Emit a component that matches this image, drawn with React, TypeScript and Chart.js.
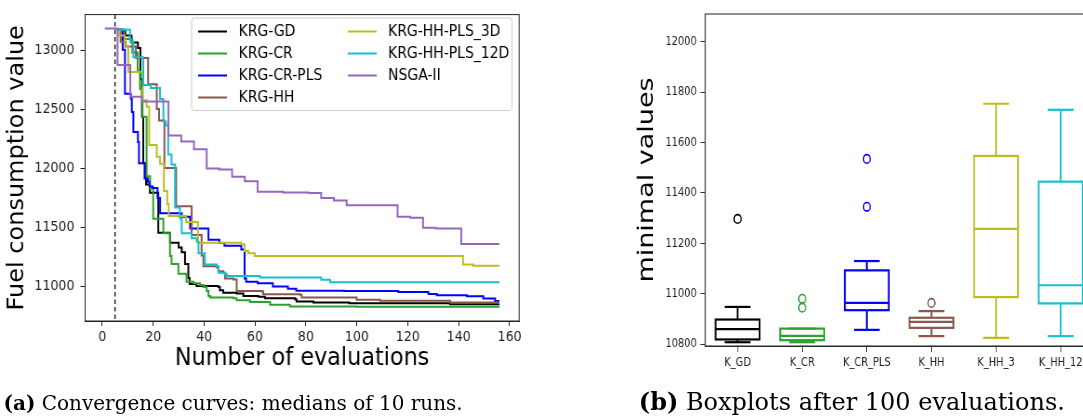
import React, { useEffect, useRef } from 'react';
import { Chart, registerables } from 'chart.js';

Chart.register(...registerables);

// ---------------- Data: convergence curves (step points: evaluation, median fuel value) ----------------
const SERIES_LABELS = ['KRG-GD', 'KRG-CR', 'KRG-CR-PLS', 'KRG-HH', 'KRG-HH-PLS_3D', 'KRG-HH-PLS_12D', 'NSGA-II'];
const SERIES_COLORS = ['#000000', '#2ca02c', '#0000ff', '#8c564b', '#bcbd22', '#17becf', '#9467bd'];

const GD_X = [6, 9, 11.5, 14, 15, 15.6, 16.1, 17.2, 18.7, 22, 26.6, 30, 31.2, 32.5, 33.8, 34.3, 37, 45.6, 46.2, 47.5, 52.8, 55.4, 61.3, 63.9, 75.7, 76.3, 82.9, 97, 136.6, 156];
const GD_Y = [13180, 13130, 13070, 13025, 12760, 12440, 12045, 11865, 11795, 11455, 11370, 11330, 11290, 11190, 11070, 11020, 11002, 10994, 10966, 10946, 10938, 10918, 10910, 10899, 10890, 10871, 10862, 10855, 10848, 10848];

const CR_X = [6, 8, 11.8, 13.9, 14.8, 15.8, 17.4, 18.8, 20, 24, 26.6, 27.2, 29.9, 33.1, 35.8, 38.4, 39.7, 41, 41.7, 42.4, 51.5, 52.8, 58, 65.9, 73.7, 100, 156];
const CR_Y = [13180, 13100, 12985, 12830, 12675, 12440, 11935, 11830, 11573, 11450, 11258, 11189, 11107, 11039, 11025, 11010, 10994, 10960, 10918, 10904, 10899, 10882, 10867, 10843, 10829, 10825, 10825];

const CRPLS_X = [6, 8, 8.9, 11.2, 11.6, 12.2, 14, 14.4, 16.6, 17.9, 18.5, 19.8, 21.7, 22.7, 31.2, 34.5, 41.7, 46, 48, 54.6, 55.9, 56.5, 61, 67, 72.9, 76.2, 95, 116.3, 128.1, 131.4, 143.2, 149.7, 154.3, 156];
const CRPLS_Y = [13180, 13010, 12635, 12595, 12480, 12310, 12225, 12045, 11915, 11888, 11848, 11835, 11750, 11620, 11590, 11491, 11395, 11367, 11345, 11313, 11067, 11039, 11025, 10998, 10979, 10963, 10960, 10951, 10935, 10924, 10916, 10897, 10875, 10875];

const HH_X = [6, 7.2, 9.2, 13.2, 18, 21.4, 22.3, 24.4, 29, 35.1, 39, 39.7, 44.9, 45.6, 47.5, 48.2, 51.5, 52.8, 62.6, 63.2, 77.7, 78.3, 99.9, 109.1, 136.6, 156];
const HH_Y = [13180, 13078, 13036, 12939, 12716, 12507, 12409, 12005, 11680, 11435, 11262, 11170, 11162, 11128, 11114, 11067, 11058, 10960, 10955, 10933, 10927, 10904, 10885, 10877, 10862, 10862];

const HH3_X = [6, 6.7, 8.9, 10.2, 15.9, 17.4, 18.4, 21.4, 22.7, 24.2, 25.5, 26.1, 32.9, 37.6, 54.5, 55.9, 57.4, 59.9, 141.7, 145.7, 156];
const HH3_Y = [13180, 13130, 13030, 12820, 12580, 12525, 12200, 12100, 12040, 11810, 11700, 11596, 11545, 11370, 11356, 11300, 11280, 11257, 11186, 11175, 11175];

const HH12_X = [5.6, 10.9, 12.2, 16.1, 19, 22.7, 24, 25, 25.9, 27.2, 28.6, 30.5, 31.2, 35.1, 37.1, 37.8, 40.3, 44.9, 45.6, 48.2, 48.9, 61.9, 86, 89.5, 156];
const HH12_Y = [13180, 13080, 12945, 12710, 12685, 12590, 12400, 12365, 12120, 12035, 11670, 11575, 11450, 11407, 11379, 11281, 11185, 11172, 11115, 11105, 11088, 11074, 11055, 11035, 11035];

const NSGA_X = [1, 6, 11, 15.6, 26, 31, 36, 41, 46, 51, 56, 61, 71, 81, 86, 91, 96, 116, 121, 126, 131, 141, 156];
const NSGA_Y = [13190, 12880, 12610, 12570, 12280, 12230, 12165, 12000, 11991, 11930, 11892, 11803, 11797, 11793, 11750, 11728, 11688, 11590, 11582, 11497, 11490, 11360, 11360];

const X_TICKS = [0, 20, 40, 60, 80, 100, 120, 140, 160];
const Y_TICKS = [11000, 11500, 12000, 12500, 13000];
const X_RANGE = [-6.75, 163.75];
const Y_RANGE = [10705, 13308];
const DOE_SIZE = 5;

// ---------------- Data: boxplots after 100 evaluations ----------------
const BOX_LABELS = ['K_GD', 'K_CR', 'K_CR_PLS', 'K_HH', 'K_HH_3', 'K_HH_12'];
const BOX_COLORS = ['#000000', '#2ca02c', '#0000ff', '#8c564b', '#bcbd22', '#17becf'];
const BOX_POS = [1, 2, 3, 4, 5, 6];
const WHISKER_LO = [10808, 10808, 10857, 10832, 10825, 10832];
const Q1 = [10819, 10816, 10935, 10865, 10987, 10962];
const MEDIAN = [10860, 10833, 10964, 10889, 11258, 11034];
const Q3 = [10898, 10862, 11093, 10905, 11547, 11445];
const WHISKER_HI = [10948, 10862, 11130, 10931, 11754, 11730];
const OUTLIER_POS = [1, 2, 2, 3, 3, 4];
const OUTLIER_VAL = [11297, 10980, 10945, 11345, 11535, 10964];
const BOX_Y_TICKS = [10800, 11000, 11200, 11400, 11600, 11800, 12000];
const BOX_X_RANGE = [0.5, 6.5];
const BOX_Y_RANGE = [10793, 12110];

const FONT = 'DejaVu Sans';

// ---------------- Left chart ----------------
const L_SCALE = 0.93;
const L_WIDTH = 581;

const framePlugin = {
  id: 'frame',
  afterDraw(chart: any) {
    const { ctx, chartArea: a } = chart;
    ctx.save();
    ctx.strokeStyle = '#222';
    ctx.lineWidth = 1;
    ctx.strokeRect(a.left, a.top, a.right - a.left, a.bottom - a.top);
    ctx.restore();
  },
};

const doePlugin = {
  id: 'doe',
  beforeDatasetsDraw(chart: any) {
    const { ctx, chartArea: a, scales } = chart;
    const x = scales.x.getPixelForValue(DOE_SIZE);
    ctx.save();
    ctx.strokeStyle = '#000';
    ctx.lineWidth = 1.3;
    ctx.setLineDash([4.5, 3]);
    ctx.beginPath();
    ctx.moveTo(x, a.top);
    ctx.lineTo(x, a.bottom);
    ctx.stroke();
    ctx.restore();
  },
};

const LEGEND_BOX = { x: 206, y: 18, w: 344.6, h: 92.5 };
const LEGEND_COLS = [{ line: 213, text: 256.6 }, { line: 374, text: 417.3 }];
const LEGEND_ROW0 = 31.5;
const LEGEND_ROW_STEP = 22;
const LEGEND_LINE_LEN = 31;

const legendPlugin = {
  id: 'innerLegend',
  afterDatasetsDraw(chart: any) {
    const { ctx } = chart;
    ctx.save();
    ctx.beginPath();
    if (ctx.roundRect) ctx.roundRect(LEGEND_BOX.x, LEGEND_BOX.y, LEGEND_BOX.w, LEGEND_BOX.h, 3);
    else ctx.rect(LEGEND_BOX.x, LEGEND_BOX.y, LEGEND_BOX.w, LEGEND_BOX.h);
    ctx.fillStyle = 'rgba(255,255,255,0.8)';
    ctx.fill();
    ctx.strokeStyle = '#cccccc';
    ctx.lineWidth = 1;
    ctx.stroke();
    ctx.font = `15px "${FONT}"`;
    ctx.textBaseline = 'middle';
    ctx.textAlign = 'left';
    chart.data.datasets.forEach((ds: any, i: number) => {
      const col = i < 4 ? 0 : 1;
      const row = i < 4 ? i : i - 4;
      const y = LEGEND_ROW0 + row * LEGEND_ROW_STEP;
      const c = LEGEND_COLS[col];
      ctx.strokeStyle = ds.borderColor;
      ctx.lineWidth = 2;
      ctx.beginPath();
      ctx.moveTo(c.line, y);
      ctx.lineTo(c.line + LEGEND_LINE_LEN, y);
      ctx.stroke();
      ctx.fillStyle = '#000';
      ctx.fillText(ds.label, c.text, y + 0.5);
    });
    ctx.restore();
  },
};

function ConvergenceChart() {
  const ref = useRef<HTMLCanvasElement>(null);
  useEffect(() => {
    const series = [
      [GD_X, GD_Y], [CR_X, CR_Y], [CRPLS_X, CRPLS_Y], [HH_X, HH_Y],
      [HH3_X, HH3_Y], [HH12_X, HH12_Y], [NSGA_X, NSGA_Y],
    ];
    const chart = new Chart(ref.current as HTMLCanvasElement, {
      type: 'line',
      data: {
        datasets: series.map(([xs, ys], i) => ({
          label: SERIES_LABELS[i],
          data: xs.map((x, j) => ({ x, y: ys[j] })),
          borderColor: SERIES_COLORS[i],
          backgroundColor: SERIES_COLORS[i],
          borderWidth: 2,
          pointRadius: 0,
          stepped: 'before',
          fill: false,
          tension: 0,
          order: series.length - i,
        })),
      } as any,
      options: {
        responsive: false,
        animation: false,
        devicePixelRatio: 1,
        layout: { padding: { left: 0, right: 22.8, top: 13, bottom: 0 } },
        plugins: { legend: { display: false }, tooltip: { enabled: false } },
        scales: {
          x: {
            type: 'linear',
            min: X_RANGE[0],
            max: X_RANGE[1],
            afterFit: (s: any) => { s.height = 95; },
            afterBuildTicks: (s: any) => { s.ticks = X_TICKS.map((v) => ({ value: v })); },
            ticks: {
              color: '#222', font: { family: FONT, size: 13.5 }, padding: 3, maxRotation: 0,
              callback: (v: any) => String(v),
            },
            grid: { drawOnChartArea: false, drawTicks: true, tickLength: 5, color: '#222' },
            border: { display: true, color: '#222' },
            title: {
              display: true, text: 'Number of evaluations', color: '#000',
              font: { family: FONT, size: 24 }, padding: { top: 0, bottom: 43 },
            },
          },
          y: {
            type: 'linear',
            min: Y_RANGE[0],
            max: Y_RANGE[1],
            afterFit: (s: any) => { s.width = 91.5; },
            afterBuildTicks: (s: any) => { s.ticks = Y_TICKS.map((v) => ({ value: v })); },
            ticks: {
              color: '#222', font: { family: FONT, size: 13.5 }, padding: 6.5,
              callback: (v: any) => String(v),
            },
            grid: { drawOnChartArea: false, drawTicks: true, tickLength: 5, color: '#222' },
            border: { display: true, color: '#222' },
            title: {
              display: true, text: 'Fuel consumption value', color: '#000',
              font: { family: FONT, size: 24 }, padding: { top: 4.4, bottom: 0 },
            },
          },
        },
      } as any,
      plugins: [doePlugin, framePlugin, legendPlugin],
    });
    return () => chart.destroy();
  }, []);
  return (
    <canvas
      ref={ref}
      width={L_WIDTH}
      height={416}
      style={{
        position: 'absolute', left: 0, top: 0, width: L_WIDTH, height: 416,
        transform: `scaleX(${L_SCALE})`, transformOrigin: '0 0',
      }}
    />
  );
}

// ---------------- Right chart ----------------
const R_SCALE = 0.82;
const R_WIDTH = 575;
const R_LEFT = 630;
const BOX_WIDTH = 0.68;
const CAP_WIDTH = 0.4;

const boxPlugin = {
  id: 'boxes',
  afterDatasetsDraw(chart: any) {
    const { ctx, scales } = chart;
    const xs = scales.x;
    const ys = scales.y;
    ctx.save();
    ctx.lineWidth = 2.2;
    const seg = (x1: number, y1: number, x2: number, y2: number) => {
      ctx.beginPath();
      ctx.moveTo(x1, y1);
      ctx.lineTo(x2, y2);
      ctx.stroke();
    };
    BOX_POS.forEach((p, i) => {
      const cx = xs.getPixelForValue(p);
      const l = xs.getPixelForValue(p - BOX_WIDTH / 2);
      const r = xs.getPixelForValue(p + BOX_WIDTH / 2);
      const cl = xs.getPixelForValue(p - CAP_WIDTH / 2);
      const cr = xs.getPixelForValue(p + CAP_WIDTH / 2);
      const yq1 = ys.getPixelForValue(Q1[i]);
      const yq3 = ys.getPixelForValue(Q3[i]);
      const ymed = ys.getPixelForValue(MEDIAN[i]);
      const ylo = ys.getPixelForValue(WHISKER_LO[i]);
      const yhi = ys.getPixelForValue(WHISKER_HI[i]);
      ctx.strokeStyle = BOX_COLORS[i];
      seg(cx, yq3, cx, yhi);
      seg(cx, yq1, cx, ylo);
      seg(cl, yhi, cr, yhi);
      seg(cl, ylo, cr, ylo);
      ctx.strokeRect(l, yq3, r - l, yq1 - yq3);
      seg(l, ymed, r, ymed);
    });
    ctx.restore();
  },
};

function BoxChart() {
  const ref = useRef<HTMLCanvasElement>(null);
  useEffect(() => {
    const chart = new Chart(ref.current as HTMLCanvasElement, {
      type: 'scatter',
      data: {
        datasets: [
          {
            label: 'outliers',
            data: OUTLIER_POS.map((x, j) => ({ x, y: OUTLIER_VAL[j] })),
            pointStyle: 'circle',
            pointRadius: 4.3,
            pointBorderWidth: 1.6,
            pointBackgroundColor: 'rgba(0,0,0,0)',
            pointBorderColor: OUTLIER_POS.map((x) => BOX_COLORS[x - 1]),
          },
        ],
      } as any,
      options: {
        responsive: false,
        animation: false,
        devicePixelRatio: 1,
        layout: { padding: { left: 0, right: 10.4, top: 14, bottom: 0 } },
        plugins: { legend: { display: false }, tooltip: { enabled: false } },
        scales: {
          x: {
            type: 'linear',
            min: BOX_X_RANGE[0],
            max: BOX_X_RANGE[1],
            afterFit: (s: any) => { s.height = 70; },
            afterBuildTicks: (s: any) => { s.ticks = BOX_POS.map((v) => ({ value: v })); },
            ticks: {
              color: '#222', font: { family: FONT, size: 12 }, padding: 4, maxRotation: 0,
              callback: (v: any) => BOX_LABELS[Number(v) - 1] ?? '',
            },
            grid: { drawOnChartArea: false, drawTicks: true, tickLength: 6, color: '#333' },
            border: { display: true, color: '#333' },
          },
          y: {
            type: 'linear',
            min: BOX_Y_RANGE[0],
            max: BOX_Y_RANGE[1],
            afterFit: (s: any) => { s.width = 91.8; },
            afterBuildTicks: (s: any) => { s.ticks = BOX_Y_TICKS.map((v) => ({ value: v })); },
            ticks: {
              color: '#222', font: { family: FONT, size: 12 }, padding: 4.5,
              callback: (v: any) => String(v),
            },
            grid: { drawOnChartArea: false, drawTicks: true, tickLength: 6, color: '#333' },
            border: { display: true, color: '#333' },
            title: {
              display: true, text: 'minimal values', color: '#000',
              font: { family: FONT, size: 27 }, padding: { top: 4.9, bottom: 0 },
            },
          },
        },
      } as any,
      plugins: [boxPlugin, framePlugin],
    });
    return () => chart.destroy();
  }, []);
  return (
    <canvas
      ref={ref}
      width={R_WIDTH}
      height={416}
      style={{
        position: 'absolute', left: R_LEFT, top: 0, width: R_WIDTH, height: 416,
        transform: `scaleX(${R_SCALE})`, transformOrigin: '0 0',
      }}
    />
  );
}

const captionStyle: React.CSSProperties = {
  position: 'absolute',
  fontFamily: '"DejaVu Serif", "Liberation Serif", serif',
  color: '#000',
  whiteSpace: 'nowrap',
};

export default function App() {
  return (
    <div
      style={{
        position: 'fixed', left: 0, top: 0, width: 1083, height: 416,
        overflow: 'hidden', background: '#fff',
      }}
    >
      <ConvergenceChart />
      <BoxChart />
      <div style={{ ...captionStyle, left: 3.5, top: 391, fontSize: 20, lineHeight: '24px' }}>
        <b>(a)</b> Convergence curves: medians of 10 runs.
      </div>
      <div style={{ ...captionStyle, left: 638.8, top: 387, fontSize: 24, lineHeight: '29px' }}>
        <b>(b)</b> Boxplots after 100 evaluations.
      </div>
    </div>
  );
}
